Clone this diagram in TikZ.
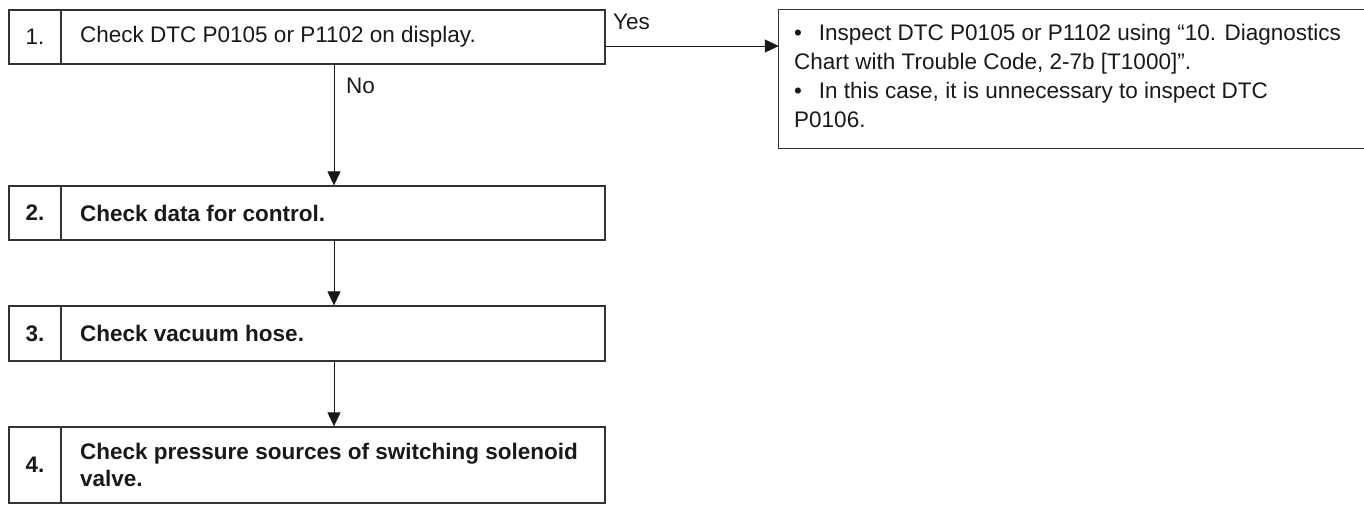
\documentclass[tikz,border=0pt]{standalone}
\usepackage{fontspec}
\setmainfont{Liberation Sans}
\usetikzlibrary{arrows.meta,calc}
\definecolor{ln}{HTML}{333333}
\begin{document}
\begin{tikzpicture}[x=1pt,y=1pt,
  box/.style={draw=ln,line width=1.3pt,rectangle,inner sep=0pt,minimum width=596pt},
  txt/.style={font=\fontsize{22.5}{27}\selectfont,inner sep=0pt,align=left,text=black!90},
  btxt/.style={inner sep=0pt,align=left,text=black!90,font=\fontsize{22.5}{27}\selectfont\bfseries},
  arr/.style={draw=black!90,line width=1pt,-{Triangle[length=14pt,width=13pt]}},
  divline/.style={draw=ln,line width=2pt}]
\useasboundingbox (0,0) rectangle (1364,-504);
\coordinate (dx) at (61,0);
\coordinate (nx) at (35,0);
\coordinate (tx) at (80,0);
\coordinate (ax) at (334,0);
\coordinate (ay) at (0,-46);
% boxes
\node[box,minimum height=54pt] (b1) at (307,-37) {};
\node[box,minimum height=54pt] (b2) at (307,-213) {};
\node[box,minimum height=55pt] (b3) at (307,-333.5) {};
\node[box,minimum height=76pt] (b4) at (307,-465) {};
% dividers
\foreach \b in {b1,b2,b3,b4}{
  \draw[divline] (\b.north -| dx) -- (\b.south -| dx);
}
% numbers
\node[txt] (n1) at (b1.center -| nx) {1.};
\node[btxt] (n2) at (b2.center -| nx) {2.};
\node[btxt] (n3) at (b3.center -| nx) {3.};
\node[btxt] (n4) at (b4.center -| nx) {4.};
% texts
\node[txt,anchor=west] (t1) at (b1.center -| tx) {Check DTC P0105 or P1102 on display.};
\node[btxt,anchor=west] (t2) at (b2.center -| tx) {Check data for control.};
\node[btxt,anchor=west] (t3) at (b3.center -| tx) {Check vacuum hose.};
\node[btxt,anchor=west] (t4) at (b4.center -| tx) {Check pressure sources of switching solenoid\\valve.};
% right box (open on the right)
\node[inner sep=0pt,minimum width=591pt,minimum height=138pt] (r) at (1074.5,-79) {};
\draw[draw=ln,line width=1.3pt] (r.north east) -- (r.north west) -- (r.south west) -- (r.south east);
\node[txt,anchor=north west,font=\fontsize{22.5}{29}\selectfont] (rt) at (794,-24)
 {•\hspace{0.75em}Inspect DTC P0105 or P1102 using “10. Diagnostics\\
  Chart with Trouble Code, 2-7b [T1000]”.\\
  •\hspace{0.75em}In this case, it is unnecessary to inspect DTC\\
  P0106.};
% connectors
\draw[arr] (b1.east |- ay) -- (r.west |- ay);
\node[txt,anchor=west] (yes) at (613,-22) {Yes};
\draw[arr] (b1.south -| ax) -- (b2.north -| ax);
\node[txt,anchor=west] (no) at (346,-86) {No};
\draw[arr] (b2.south -| ax) -- (b3.north -| ax);
\draw[arr] (b3.south -| ax) -- (b4.north -| ax);
\end{tikzpicture}
\end{document}
